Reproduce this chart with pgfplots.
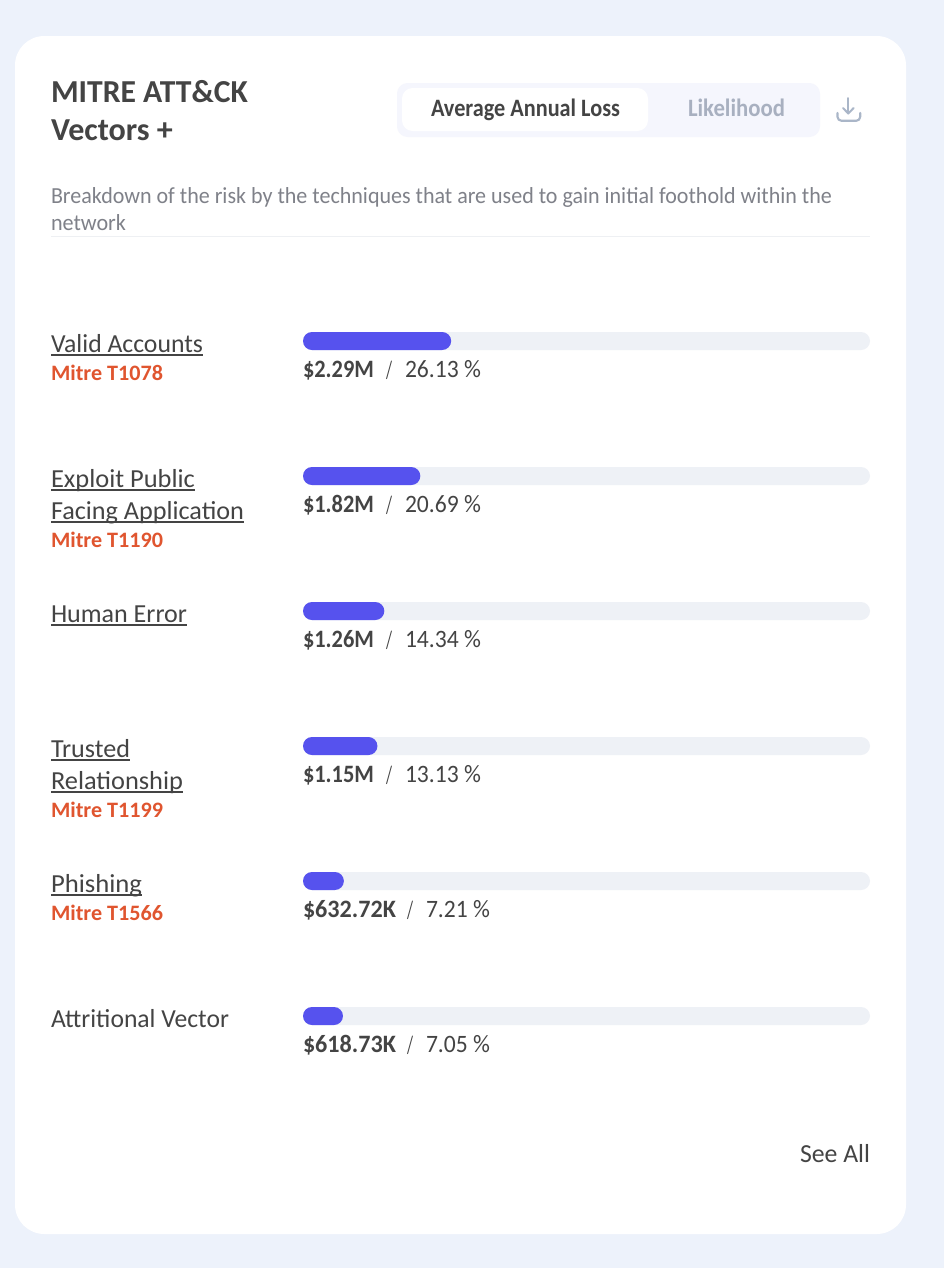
\documentclass[border=0pt]{standalone}
\usepackage{pgfplots}
\pgfplotsset{compat=1.18}
\usepackage{graphicx}
\usepackage{fontspec}
\setmainfont{Carlito}
\definecolor{pagebg}{HTML}{EDF2FB}
\definecolor{ink}{HTML}{444444}
\definecolor{sub}{HTML}{7F8189}
\definecolor{barblue}{HTML}{5652EE}
\definecolor{track}{HTML}{EEF1F6}
\definecolor{mitre}{HTML}{E0552F}
\definecolor{togglebg}{HTML}{F5F6FD}
\definecolor{mutedt}{HTML}{A8B0C0}
\definecolor{iconc}{HTML}{AAB6C8}
\definecolor{rulec}{HTML}{EEF0F3}
% T{x}{baseline y}{width}{font px}{font extras}{text}
\newcommand{\T}[6]{%
  \pgfmathsetmacro{\fs}{#4*0.75}%
  \pgfmathsetmacro{\ww}{#3*0.75}%
  \node[anchor=base west,inner sep=0pt,outer sep=0pt] at (#1,#2)
    {\fontsize{\fs pt}{\fs pt}\selectfont #5\resizebox{\ww pt}{\height}{#6}};}
\begin{document}
\begin{tikzpicture}[x=0.75pt,y=-0.75pt]
\useasboundingbox (0,0) rectangle (944,1268);
\fill[pagebg] (0,0) rectangle (944,1268);
\fill[white,rounded corners=22pt] (15,36) rectangle (906,1234);

% header
\T{51}{102}{197}{32}{\bfseries\color{ink}}{MITRE ATT\&CK}
\T{51}{140}{122}{32}{\bfseries\color{ink}}{Vectors +}
\fill[togglebg,rounded corners=8pt] (397,83) rectangle (820,137);
\fill[white,rounded corners=8pt] (402,88) rectangle (648,131);
\T{431}{116}{189}{25}{\bfseries\color{ink}}{Average Annual Loss}
\T{688}{116}{97}{25}{\bfseries\color{mutedt}}{Likelihood}
% download icon
\draw[iconc,line width=1.5pt,line cap=round,line join=round] (848.3,98) -- (848.3,113);
\draw[iconc,line width=1.5pt,line cap=round,line join=round] (843,108) -- (848.3,113.5) -- (853.6,108);
\draw[iconc,line width=1.6pt,line cap=round,line join=round,rounded corners=3pt] (837.5,113) -- (837.5,120.8) -- (860.2,120.8) -- (860.2,113);

\T{51}{203}{781}{23}{\color{sub}}{Breakdown of the risk by the techniques that are used to gain initial foothold within the}
\T{51}{230}{75}{23}{\color{sub}}{network}
\draw[rulec,line width=0.75pt] (51,236.5) -- (870,236.5);

% bars
\begin{axis}[
  at={(303*0.75pt,-341*0.75pt)}, anchor=north west,
  scale only axis, width=425.25pt, height=506.25pt,
  xmin=0, xmax=100, ymin=0, ymax=5, y dir=reverse,
  hide axis, clip=false,
  xbar, bar width=13.5pt, bar shift=0pt,
]
\addplot[fill=track,draw=none,rounded corners=6.75pt] coordinates
  {(100,0) (100,1) (100,2) (100,3) (100,4) (100,5)};
\addplot[fill=barblue,draw=none,rounded corners=6.75pt] coordinates
  {(26.13,0) (20.69,1) (14.34,2) (13.13,3) (7.21,4) (7.05,5)};
\end{axis}

% row labels
\T{51}{352}{152}{26}{\color{ink}}{Valid Accounts}
\draw[ink,line width=1pt] (51,355) -- (203,355);
\T{51}{380}{112}{22}{\bfseries\color{mitre}}{Mitre T1078}
\T{51}{487}{144}{26}{\color{ink}}{Exploit Public}
\draw[ink,line width=1pt] (51,490) -- (195,490);
\T{51}{519}{193}{26}{\color{ink}}{Facing Application}
\draw[ink,line width=1pt] (51,522) -- (244,522);
\T{51}{547}{112}{22}{\bfseries\color{mitre}}{Mitre T1190}
\T{51}{622}{136}{26}{\color{ink}}{Human Error}
\draw[ink,line width=1pt] (51,625) -- (187,625);
\T{51}{757}{79}{26}{\color{ink}}{Trusted}
\draw[ink,line width=1pt] (51,760) -- (130,760);
\T{51}{789}{132}{26}{\color{ink}}{Relationship}
\draw[ink,line width=1pt] (51,792) -- (183,792);
\T{51}{817}{112}{22}{\bfseries\color{mitre}}{Mitre T1199}
\T{51}{892}{91}{26}{\color{ink}}{Phishing}
\draw[ink,line width=1pt] (51,895) -- (142,895);
\T{51}{920}{112}{22}{\bfseries\color{mitre}}{Mitre T1566}
\T{51}{1027}{178}{26}{\color{ink}}{Attritional Vector}

% value labels
\T{303}{377}{71}{25}{\bfseries\color{ink}}{\$2.29M}
\T{386}{378}{6}{25}{\color{ink}}{/}
\T{405}{377}{76}{25}{\color{ink}}{26.13 \%}
\T{303}{512}{71}{25}{\bfseries\color{ink}}{\$1.82M}
\T{386}{513}{6}{25}{\color{ink}}{/}
\T{405}{512}{76}{25}{\color{ink}}{20.69 \%}
\T{303}{647}{71}{25}{\bfseries\color{ink}}{\$1.26M}
\T{386}{648}{6}{25}{\color{ink}}{/}
\T{405}{647}{76}{25}{\color{ink}}{14.34 \%}
\T{303}{782}{71}{25}{\bfseries\color{ink}}{\$1.15M}
\T{386}{783}{6}{25}{\color{ink}}{/}
\T{405}{782}{76}{25}{\color{ink}}{13.13 \%}
\T{303}{917}{93}{25}{\bfseries\color{ink}}{\$632.72K}
\T{407}{918}{6}{25}{\color{ink}}{/}
\T{426}{917}{64}{25}{\color{ink}}{7.21 \%}
\T{303}{1052}{93}{25}{\bfseries\color{ink}}{\$618.73K}
\T{407}{1053}{6}{25}{\color{ink}}{/}
\T{426}{1052}{64}{25}{\color{ink}}{7.05 \%}

\T{800}{1162}{70}{26}{\color{ink}}{See All}
\end{tikzpicture}
\end{document}
